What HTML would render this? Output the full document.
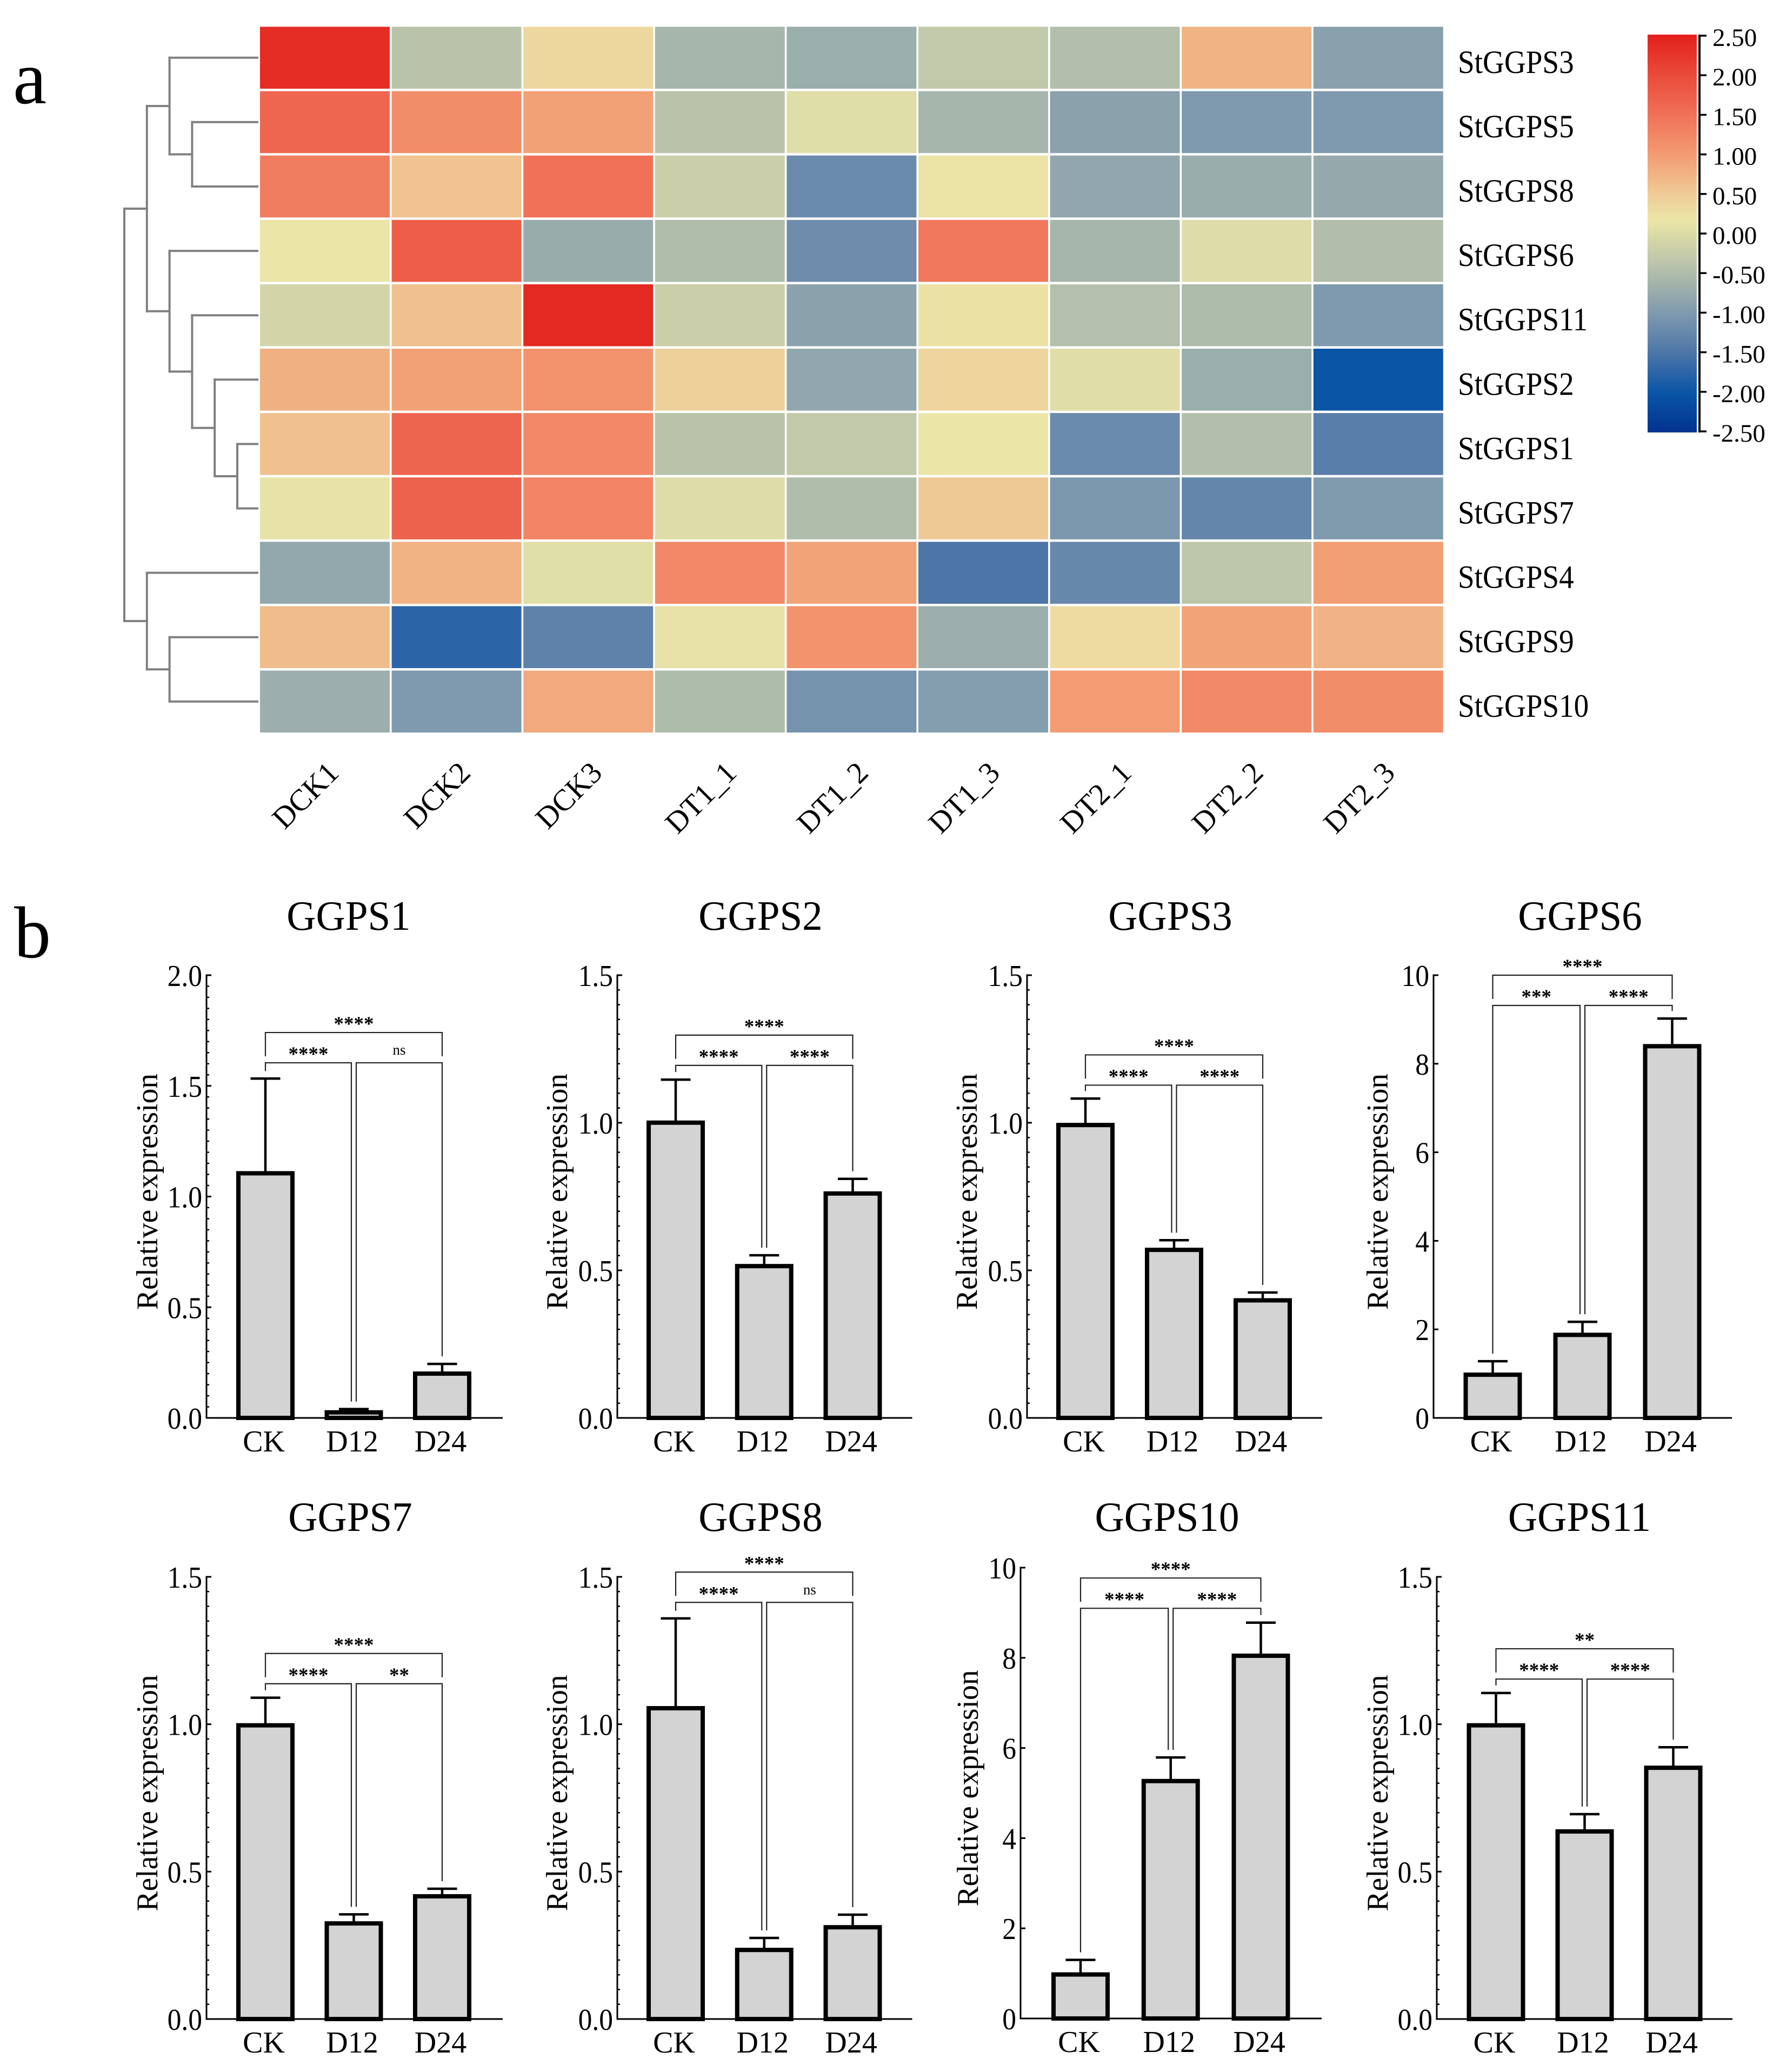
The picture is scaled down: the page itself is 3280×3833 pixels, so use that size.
<!DOCTYPE html>
<html lang="en">
<head>
<meta charset="utf-8">
<title>GGPS heatmap and relative expression</title>
<style>
html,body{margin:0;padding:0;background:#fff}
svg{display:block}
text{font-family:"Liberation Serif","Times New Roman",serif;fill:#000}
</style>
</head>
<body>
<svg id="chart" xmlns="http://www.w3.org/2000/svg" width="3280" height="3833" viewBox="0 0 3280 3833">
<rect x="0" y="0" width="3280" height="3833" fill="#ffffff"/>
<text x="24" y="191" font-size="140">a</text>
<text x="26" y="1771" font-size="136">b</text>
</svg>
<script>
const heatRowLabels = ["StGGPS3","StGGPS5","StGGPS8","StGGPS6","StGGPS11","StGGPS2","StGGPS1","StGGPS7","StGGPS4","StGGPS9","StGGPS10"];
const heatColLabels = ["DCK1","DCK2","DCK3","DT1_1","DT1_2","DT1_3","DT2_1","DT2_2","DT2_3"];
const heatValues = [
 [2.35,-0.40,0.35,-0.60,-0.72,-0.30,-0.47,0.75,-0.90],
 [1.63,1.15,0.93,-0.40,0.03,-0.60,-0.88,-1.00,-1.00],
 [1.35,0.58,1.50,-0.20,-1.20,0.20,-0.82,-0.73,-0.78],
 [0.17,1.75,-0.74,-0.50,-1.17,1.40,-0.60,0.02,-0.48],
 [-0.10,0.60,2.40,-0.20,-0.88,0.22,-0.45,-0.52,-1.00],
 [0.78,0.93,1.08,0.42,-0.82,0.38,0.04,-0.72,-2.00],
 [0.60,1.65,1.22,-0.40,-0.30,0.17,-1.20,-0.47,-1.38],
 [0.13,1.68,1.25,0.02,-0.50,0.52,-1.03,-1.27,-0.98],
 [-0.80,0.75,0.06,1.22,0.90,-1.50,-1.25,-0.33,0.95],
 [0.65,-1.75,-1.32,0.12,1.08,-0.70,0.30,0.90,0.74],
 [-0.70,-1.00,0.85,-0.52,-1.10,-0.95,0.98,1.20,1.15]
];
const dendrogramTree = [[[0,[1,2]],[3,[4,[5,[6,7]]]]],[8,[9,10]]];
const colorbarTicks = ["2.50","2.00","1.50","1.00","0.50","0.00","-0.50","-1.00","-1.50","-2.00","-2.50"];
const scaleValues = [2.5,2,1.5,1,0.5,0.17,0,-0.5,-1,-1.5,-2,-2.5];
const scaleColors = ["#e31f1c","#e94a3a","#f07058","#f39a72","#efcb96","#ebe5a8","#dcdba8","#b0bdab","#7f9aae","#4d75a8","#0a55a6","#02338f"];

const barTitles = ["GGPS1","GGPS2","GGPS3","GGPS6","GGPS7","GGPS8","GGPS10","GGPS11"];
const barCategories = ["CK","D12","D24"];
const barMeans = [
 [1.11,0.03,0.205],[1.004,0.518,0.764],[0.996,0.573,0.402],[1.0,1.9,8.42],
 [1.0,0.328,0.42],[1.058,0.238,0.315],[1.0,5.29,8.07],[1.0,0.64,0.856]
];
const barErrors = [
 [0.423,0.01,0.039],[0.142,0.033,0.046],[0.086,0.029,0.023],[0.28,0.27,0.6],
 [0.09,0.027,0.022],[0.301,0.037,0.039],[0.3,0.5,0.71],[0.106,0.055,0.066]
];
const yAxisMax = [2,1.5,1.5,10,1.5,1.5,10,1.5];
const yTickLabels = [
 ["0.0","0.5","1.0","1.5","2.0"],["0.0","0.5","1.0","1.5"],["0.0","0.5","1.0","1.5"],["0","2","4","6","8","10"],
 ["0.0","0.5","1.0","1.5"],["0.0","0.5","1.0","1.5"],["0","2","4","6","8","10"],["0.0","0.5","1.0","1.5"]
];
const bracketLevels = [1.741,1.297,1.23,10.0,1.24,1.516,9.77,1.256];
const sigLeft = ["****","****","****","***","****","****","****","****"];
const sigRight = ["ns","****","****","****","**","ns","****","****"];
const sigTop = ["****","****","****","****","****","****","****","**"];

const SVGNS = "http://www.w3.org/2000/svg";
const root = document.getElementById("chart");
function mk(tag, attrs, parent){
  const el = document.createElementNS(SVGNS, tag);
  for (const k in attrs) el.setAttribute(k, attrs[k]);
  (parent || root).appendChild(el);
  return el;
}
function label(str, x, y, size, opts, parent){
  opts = opts || {};
  const sx = opts.sx || 1, rot = opts.rot || 0;
  const el = mk("text", {
    transform: "translate(" + x + "," + y + ")" + (rot ? " rotate(" + rot + ")" : "") + (sx !== 1 ? " scale(" + sx + ",1)" : ""),
    "font-size": size,
    "text-anchor": opts.anchor || "start",
    y: opts.dy || 0
  }, parent);
  if (opts.weight) el.setAttribute("font-weight", opts.weight);
  el.textContent = str;
  return el;
}
function hexToRgb(h){return [1,3,5].map(i => parseInt(h.substr(i,2),16));}
function colorFor(v){
  if (v >= scaleValues[0]) return scaleColors[0];
  for (let i = 0; i < scaleValues.length - 1; i++){
    if (v <= scaleValues[i] && v >= scaleValues[i+1]){
      const t = (scaleValues[i]-v)/(scaleValues[i]-scaleValues[i+1]);
      const a = hexToRgb(scaleColors[i]), b = hexToRgb(scaleColors[i+1]);
      return "rgb(" + a.map((c,k) => Math.round(c+(b[k]-c)*t)).join(",") + ")";
    }
  }
  return scaleColors[scaleColors.length-1];
}

/* ---------- heatmap ---------- */
const heatX0 = 481, heatY0 = 49.5, colPitch = 243.6, rowPitch = 119.1, cellW = 240, cellH = 114.6;
const heatG = mk("g", {});


function rowCenter(r){return heatY0 + cellH/2 + r*rowPitch;}
function colCenter(c){return heatX0 + cellW/2 + c*colPitch;}
heatValues.forEach((row, r) => {
  row.forEach((v, c) => {
    const cell = mk("rect", {x: heatX0 + c*colPitch, y: heatY0 + r*rowPitch, width: cellW, height: cellH, fill: colorFor(v)}, heatG);
    
    
  });
});
heatRowLabels.forEach((t, r) => {
  const el = label(t, 2697, rowCenter(r) + 28, 60, {sx: 0.92});
  
  
});
heatColLabels.forEach((t, c) => {
  const nudge = t.charAt(1) === "T" ? 3 : -2;
  const el = label(t, colCenter(c) + 18 + nudge, 1420, 56, {rot: -45, anchor: "end", dy: 18});
  
  
});

/* ---------- dendrogram ---------- */
const dendroG = mk("g", {stroke: "#808080", "stroke-width": 4, fill: "none", "stroke-linecap": "square"});


const dendroLeft = 230, dendroStep = 41.8, dendroEnd = 476;
function drawNode(node, depth){
  const x = dendroLeft + depth*dendroStep;
  const ys = node.map(ch => {
    if (typeof ch === "number"){
      const y = rowCenter(ch);
      const leaf = mk("path", {d: "M" + x + " " + y + "H" + dendroEnd}, dendroG);
      
      
      return y;
    }
    const y = drawNode(ch, depth + 1);
    const link = mk("path", {d: "M" + x + " " + y + "H" + (x + dendroStep)}, dendroG);
    
    
    return y;
  });
  const stem = mk("path", {d: "M" + x + " " + ys[0] + "V" + ys[1]}, dendroG);
  
  
  return (ys[0] + ys[1]) / 2;
}
drawNode(dendrogramTree, 0);

/* ---------- colorbar ---------- */
const defs = mk("defs", {});
const grad = mk("linearGradient", {id: "cbar", x1: 0, y1: 0, x2: 0, y2: 1}, defs);
scaleValues.forEach((v, i) => {
  mk("stop", {offset: (2.5 - v)/5, "stop-color": scaleColors[i]}, grad);
});
const cbarTop = 64, cbarBottom = 800;
const cbar = mk("rect", {x: 3048, y: cbarTop, width: 91, height: cbarBottom - cbarTop, fill: "url(#cbar)"});


const tickTop = 66, tickBottom = 798;
const cbarAxis = mk("line", {x1: 3144, x2: 3144, y1: tickTop - 2, y2: tickBottom + 2, stroke: "#000", "stroke-width": 4});


colorbarTicks.forEach((t, i) => {
  const y = tickTop + (tickBottom - tickTop) * i / (colorbarTicks.length - 1);
  const tk = mk("line", {x1: 3144, x2: 3157, y1: y, y2: y, stroke: "#000", "stroke-width": 3.5});
  
  
  const el = label(t, 3168, y + 19, 47);
  
  
});

/* ---------- bar panels ---------- */
function panelFrame(i){
  return [
    {x:382, r:930, top:1804, bot:2623, c0:491, dc:163.5, yl:291, title:645, tb:1720},
    {x:1142, r:1687.5, top:1804, bot:2623, c0:1250, dc:163.75, yl:1049, title:1407, tb:1720},
    {x:1900, r:2446, top:1804, bot:2623, c0:2008, dc:164, yl:1807, title:2165, tb:1720},
    {x:2652, r:3204, top:1804, bot:2623, c0:2761.5, dc:166, yl:2567, title:2923, tb:1720},
    {x:382, r:930, top:2917, bot:3735, c0:491, dc:163.5, yl:291, title:648, tb:2832},
    {x:1142, r:1687.5, top:2917, bot:3735, c0:1250, dc:163.75, yl:1049, title:1407, tb:2832},
    {x:1888, r:2445, top:2900, bot:3734, c0:1999, dc:166.75, yl:1809, title:2159, tb:2832},
    {x:2658, r:3205, top:2917, bot:3735, c0:2767.5, dc:164, yl:2567, title:2922, tb:2832}
  ][i];
}
barTitles.forEach((title, p) => {
  const f = panelFrame(p);
  const g = mk("g", {});
  
  
  const yScale = v => f.bot - (v / yAxisMax[p]) * (f.bot - f.top);
  const xBar = i => f.c0 + i * f.dc;

  const tt = label(title, f.title, f.tb, 77, {anchor: "middle", sx: 0.975}, g);
  
  

  const yt = label("Relative expression", f.yl, (f.top + f.bot)/2 - 9, 56.5, {rot: -90, anchor: "middle", sx: 0.985}, g);
  
  

  /* minor ticks for fractional axes */
  if (yAxisMax[p] <= 2){
    const n = Math.round(yAxisMax[p] / 0.05);
    for (let k = 1; k < n; k++){
      const v = k * 0.05;
      const y = yScale(v);
      const m = mk("line", {x1: f.x, x2: f.x + 5, y1: y, y2: y, stroke: "#000", "stroke-width": 2.5}, g);
      
      
    }
  }
  yTickLabels[p].forEach(t => {
    const y = yScale(parseFloat(t));
    const tk = mk("line", {x1: f.x, x2: f.x + 9, y1: y, y2: y, stroke: "#000", "stroke-width": 3}, g);
    
    
    const el = label(t, f.x - 8, y + 20, 56, {anchor: "end", sx: 0.92}, g);
    
    
  });

  /* bars and error bars */
  barCategories.forEach((cat, i) => {
    const cx = xBar(i), top = yScale(barMeans[p][i]), errTop = yScale(barMeans[p][i] + barErrors[p][i]);
    const stem = mk("line", {x1: cx, x2: cx, y1: errTop, y2: top, stroke: "#000", "stroke-width": 4.5}, g);
    
    
    const cap = mk("line", {x1: cx - 27.5, x2: cx + 27.5, y1: errTop, y2: errTop, stroke: "#000", "stroke-width": 4.5}, g);
    
    
    const h = Math.max(f.bot - top - 2, 0);
    const bar = mk("rect", {x: cx - 50, y: top + 2, width: 100, height: h, fill: "#d3d3d3", stroke: "#000", "stroke-width": 8}, g);
    
    
    const xl = label(cat, cx - 3, f.bot + 62, 56, {anchor: "middle", sx: 1.0}, g);
    
    
  });

  /* axes */
  const ya = mk("line", {x1: f.x, x2: f.x, y1: f.top - 1.5, y2: f.bot + 1.5, stroke: "#000", "stroke-width": 3}, g);
  
  
  const xa = mk("line", {x1: f.x, x2: f.r, y1: f.bot, y2: f.bot, stroke: "#000", "stroke-width": 3}, g);
  
  

  /* significance brackets */
  const errY = i => yScale(barMeans[p][i] + barErrors[p][i]) - 14;
  const by = yScale(bracketLevels[p]), my = by + 56;
  const c0 = xBar(0), c1 = xBar(1), c2 = xBar(2);
  const br = {fill: "none", stroke: "#222", "stroke-width": 2.2};
  const b1 = mk("path", Object.assign({d: "M" + c0 + " " + (by + 44) + "V" + by + "H" + c2 + "V" + (by + 44)}, br), g);
  
  
  const b2 = mk("path", Object.assign({d: "M" + c0 + " " + errY(0) + "V" + my + "H" + (c1 - 4.5) + "V" + errY(1)}, br), g);
  
  
  const b3 = mk("path", Object.assign({d: "M" + (c1 + 4.5) + " " + errY(1) + "V" + my + "H" + c2 + "V" + errY(2)}, br), g);
  
  
  function sig(t, x, yb){
    const isNs = t === "ns";
    return label(t, x, yb + (isNs ? -12 : -1), isNs ? 27 : 37, {anchor: "middle", weight: isNs ? "" : "bold"}, g);
  }
  const s1 = sig(sigTop[p], (c0 + c2)/2, by - 3);
  
  
  const s2 = sig(sigLeft[p], (c0 + c1 - 4.5)/2, my - 3);
  
  
  const s3 = sig(sigRight[p], (c1 + 4.5 + c2)/2, my - 3);
  
  
});
</script>
</body>
</html>
